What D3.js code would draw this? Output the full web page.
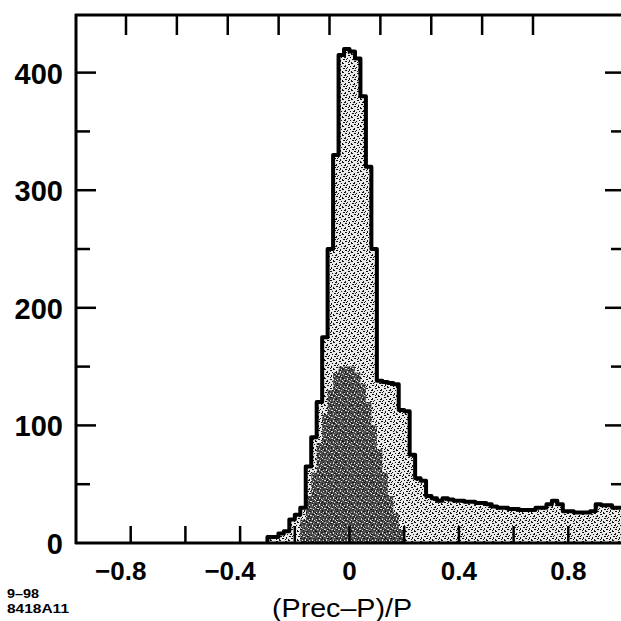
<!DOCTYPE html>
<html>
<head>
<meta charset="utf-8">
<script src="https://cdn.jsdelivr.net/npm/d3@7"></script>
<style>
  html, body { margin: 0; padding: 0; background: #fff; }
  svg { display: block; }
  text { font-family: "Liberation Sans", Arial, sans-serif; fill: #000; }
</style>
</head>
<body>
<div id="chart"></div>
<script>
// ---------- data ----------
const binStart = [-0.30,-0.28,-0.26,-0.24,-0.22,-0.20,-0.18,-0.16,-0.14,-0.12,-0.10,-0.08,-0.06,-0.04,-0.02,
  0.00,0.02,0.04,0.06,0.08,0.10,0.12,0.14,0.16,0.18,0.20,0.22,0.24,0.26,0.28,0.30,0.32,0.34,0.36,0.38,
  0.40,0.42,0.44,0.46,0.48,0.50,0.52,0.54,0.56,0.58,0.60,0.62,0.64,0.66,0.68,0.70,0.72,0.74,0.76,0.78,
  0.80,0.82,0.84,0.86,0.88,0.90,0.92,0.94,0.96,0.98];
const binWidth = 0.02;
const counts = [5,5,8,10,20,24,30,65,90,120,175,250,330,415,420,
  418,412,380,320,250,138,137,136,135,113,112,75,55,53,40,38,36,38,37,36,
  36,35,35,34,34,33,31,30,30,29,29,28,28,28,30,30,33,36,33,27,
  27,26,26,26,27,33,32,32,30,30];
// darker inner (narrower) distribution
const innerStart = [-0.18,-0.16,-0.14,-0.12,-0.10,-0.08,-0.06,-0.04,-0.02,0.00,0.02,0.04,0.06,0.08,0.10,0.12,0.14,0.16,0.18];
const innerCounts = [20,40,60,85,110,130,145,150,150,150,145,135,120,100,80,60,40,25,12];

const yTicksMajor = [0,100,200,300,400];
const yTicksMinor = [50,150,250,350];
const xTicksBottom = [-0.8,-0.6,-0.4,-0.2,0,0.2,0.4,0.6,0.8];
const xTickLabels = [-0.8,-0.4,0,0.4,0.8];
const xTicksTop = [-0.8,-0.6,-0.4,-0.2,0,0.2,0.4,0.6,0.8];
const xTitle = "(Prec\u2013P)/P";
const stamp = ["9\u201398","8418A11"];

(function () {
// ---------- layout ----------
const W = 621, H = 621;
const mLeft = 76, mRight = 623, mTop = 15, mBottom = 543;

const x = d3.scaleLinear().domain([-1, 1]).range([mLeft, mRight]);
const xTop = d3.scaleLinear().domain([-0.8, 0.8]).range([126, 533]);
const y = d3.scaleLinear().domain([0, 449]).range([mBottom, mTop]);

const svg = d3.select("#chart").append("svg").attr("width", W).attr("height", H);

// speckle patterns
const defs = svg.append("defs");
const pl = defs.append("pattern").attr("id","speckLight").attr("patternUnits","userSpaceOnUse")
  .attr("width",9).attr("height",9);
pl.append("rect").attr("width",9).attr("height",9).attr("fill","#eaeaea");
[[0,0,2,1],[3,2,1,2],[6,1,2,1],[1,5,2,1],[5,4,1,1],[7,6,1,2],[3,7,2,1],[4,5,1,1],[8,3,1,1],[0,8,1,1],[2,3,1,1],[6,8,1,1]]
  .forEach(r => pl.append("rect").attr("x",r[0]).attr("y",r[1]).attr("width",r[2]).attr("height",r[3]).attr("fill","#111"));
const pd = defs.append("pattern").attr("id","speckDark").attr("patternUnits","userSpaceOnUse")
  .attr("width",7).attr("height",7);
pd.append("rect").attr("width",7).attr("height",7).attr("fill","#1a1a1a");
[[1,1,1,1],[4,0,1,2],[2,4,2,1],[5,5,1,1],[0,3,1,1],[6,2,1,1]]
  .forEach(r => pd.append("rect").attr("x",r[0]).attr("y",r[1]).attr("width",r[2]).attr("height",r[3]).attr("fill","#ddd"));

const clip = defs.append("clipPath").attr("id","plotclip");
clip.append("rect").attr("x",mLeft).attr("y",mTop).attr("width",mRight-mLeft).attr("height",mBottom-mTop);

function stepPath(starts, vals) {
  const pts = [[x(starts[0]), y(0)]];
  starts.forEach((s,i) => {
    pts.push([x(s), y(vals[i])]);
    pts.push([x(s+binWidth), y(vals[i])]);
  });
  pts.push([x(starts[starts.length-1]+binWidth), y(0)]);
  return d3.line()(pts);
}

const g = svg.append("g").attr("clip-path","url(#plotclip)");
g.append("path").attr("d", stepPath(binStart, counts)).attr("fill","url(#speckLight)");
g.append("path").attr("d", stepPath(innerStart, innerCounts)).attr("fill","url(#speckDark)").attr("opacity",0.75);
g.append("path").attr("d", stepPath(binStart, counts)).attr("fill","none")
  .attr("stroke","#000").attr("stroke-width",4).attr("stroke-linejoin","round");

// ---------- frame ----------
const axisStroke = 3;
svg.append("line").attr("x1",mLeft).attr("x2",mLeft).attr("y1",mTop-1).attr("y2",mBottom+1).attr("stroke","#000").attr("stroke-width",axisStroke);
svg.append("line").attr("x1",mLeft-1).attr("x2",W+2).attr("y1",mBottom).attr("y2",mBottom).attr("stroke","#000").attr("stroke-width",axisStroke);
svg.append("line").attr("x1",mLeft-1).attr("x2",W+2).attr("y1",mTop).attr("y2",mTop).attr("stroke","#000").attr("stroke-width",axisStroke);
svg.append("line").attr("x1",mRight+3).attr("x2",mRight+3).attr("y1",mTop).attr("y2",mBottom).attr("stroke","#000").attr("stroke-width",axisStroke);

// left y ticks
svg.append("g").selectAll("line").data(yTicksMajor.filter(d=>d>0)).join("line")
  .attr("x1",mLeft).attr("x2",mLeft+20).attr("y1",d=>y(d)).attr("y2",d=>y(d)).attr("stroke","#000").attr("stroke-width",2.5);
svg.append("g").selectAll("line").data(yTicksMinor).join("line")
  .attr("x1",mLeft).attr("x2",mLeft+14).attr("y1",d=>y(d)).attr("y2",d=>y(d)).attr("stroke","#000").attr("stroke-width",2.5);
// right y ticks
svg.append("g").selectAll("line").data(yTicksMajor.filter(d=>d>0)).join("line")
  .attr("x1",mRight).attr("x2",mRight-18).attr("y1",d=>y(d)).attr("y2",d=>y(d)).attr("stroke","#000").attr("stroke-width",2.5);
svg.append("g").selectAll("line").data(yTicksMinor).join("line")
  .attr("x1",mRight).attr("x2",mRight-12).attr("y1",d=>y(d)).attr("y2",d=>y(d)).attr("stroke","#000").attr("stroke-width",2.5);
// y labels
svg.append("g").selectAll("text").data(yTicksMajor).join("text")
  .attr("x", 63).attr("y", d=>y(d)+11).attr("text-anchor","end")
  .attr("font-size",29).attr("font-weight","bold").text(d=>d);

// bottom ticks
svg.append("g").selectAll("line").data(xTicksBottom).join("line")
  .attr("x1",d=>x(d)).attr("x2",d=>x(d)).attr("y1",mBottom).attr("y2",mBottom-17).attr("stroke","#000").attr("stroke-width",2.5);
// top ticks
svg.append("g").selectAll("line").data(xTicksTop).join("line")
  .attr("x1",d=>xTop(d)).attr("x2",d=>xTop(d)).attr("y1",mTop).attr("y2",mTop+20).attr("stroke","#000").attr("stroke-width",2.5);

// x labels (number centred on tick, minus hangs to the left)
svg.append("g").selectAll("text").data(xTickLabels).join("text")
  .attr("x", d=>x(d) + (d<0 ? -10 : 0)).attr("y", mBottom+37).attr("text-anchor","middle")
  .attr("font-size",26).attr("font-weight","bold")
  .text(d => (d<0 ? "\u2212" : "") + (d===0 ? "0" : Math.abs(d).toFixed(1)));

// x title
svg.append("text").attr("x",272).attr("y",617).attr("font-size",25)
  .attr("textLength",140).attr("lengthAdjust","spacingAndGlyphs").text(xTitle);

// stamp
svg.append("text").attr("x",7).attr("y",598).attr("font-size",13).attr("font-weight","bold")
  .attr("textLength",32).attr("lengthAdjust","spacingAndGlyphs").text(stamp[0]);
svg.append("text").attr("x",7).attr("y",613).attr("font-size",13).attr("font-weight","bold")
  .attr("textLength",62).attr("lengthAdjust","spacingAndGlyphs").text(stamp[1]);
})();
</script>
</body>
</html>
